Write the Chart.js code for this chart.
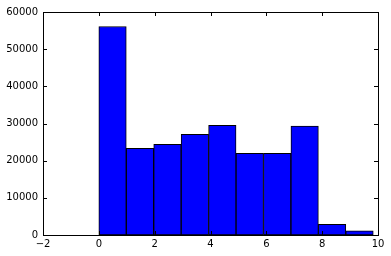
<!DOCTYPE html>
<html>
<head>
<meta charset="utf-8">
<script src="https://cdn.jsdelivr.net/npm/chart.js@4/dist/chart.umd.min.js"></script>
<style>
  html, body { margin: 0; padding: 0; background: #fff; }
  #wrap { width: 391px; height: 256px; }
</style>
</head>
<body>
<div id="wrap"><canvas id="grafico"></canvas></div>
<script>
// histogram bins (left/right edges) and counts
var binEdges = [0, 0.983, 1.966, 2.949, 3.932, 4.915, 5.898, 6.881, 7.864, 8.847, 9.83];
var counts = [56100, 23300, 24400, 27100, 29500, 22000, 22000, 29300, 2900, 1100];
var xTicks = [-2, 0, 2, 4, 6, 8, 10];
var yTicks = [0, 10000, 20000, 30000, 40000, 50000, 60000];

var puntos = [];
for (var i = 0; i < counts.length; i++) {
    puntos.push({ x: (binEdges[i] + binEdges[i + 1]) / 2, y: counts[i] });
}

// frame + inward ticks on all four sides, like matplotlib classic
var marco = {
    id: 'marco',
    afterDraw: function (chart) {
        var ctx = chart.ctx, a = chart.chartArea;
        var sx = chart.scales.x, sy = chart.scales.y;
        var L = 4;
        ctx.save();
        ctx.strokeStyle = '#000';
        ctx.lineWidth = 1;
        ctx.beginPath();
        xTicks.forEach(function (t) {
            var px = Math.round(sx.getPixelForValue(t)) + 0.5;
            ctx.moveTo(px, a.bottom); ctx.lineTo(px, a.bottom - L);
            ctx.moveTo(px, a.top); ctx.lineTo(px, a.top + L);
        });
        yTicks.forEach(function (t) {
            var py = Math.round(sy.getPixelForValue(t)) + 0.5;
            ctx.moveTo(a.left, py); ctx.lineTo(a.left + L, py);
            ctx.moveTo(a.right, py); ctx.lineTo(a.right - L, py);
        });
        ctx.stroke();
        ctx.strokeRect(Math.round(a.left) + 0.5, Math.round(a.top) + 0.5,
                       Math.round(a.right - a.left), Math.round(a.bottom - a.top));
        ctx.restore();
    }
};

var fuente = { family: 'DejaVu Sans', size: 10 };

new Chart(document.getElementById('grafico'), {
    type: 'bar',
    data: {
        datasets: [{
            data: puntos,
            backgroundColor: '#0000ff',
            borderColor: '#000',
            borderWidth: 1,
            borderSkipped: false,
            barPercentage: 1,
            categoryPercentage: 1
        }]
    },
    options: {
        responsive: true,
        maintainAspectRatio: false,
        animation: false,
        layout: { padding: { top: 12, right: 13, left: 0, bottom: 0 } },
        plugins: { legend: { display: false }, tooltip: { enabled: false } },
        scales: {
            x: {
                type: 'linear',
                offset: false,
                min: -2, max: 10,
                afterBuildTicks: function (s) { s.ticks = xTicks.map(function (v) { return { value: v }; }); },
                afterFit: function (s) { s.height = 21; },
                grid: { display: false, drawTicks: false, offset: false },
                border: { display: false },
                ticks: {
                    padding: 3, color: '#000', font: fuente, maxRotation: 0,
                    callback: function (v) { return String(v).replace('-', '\u2212'); }
                }
            },
            y: {
                min: 0, max: 60000,
                afterBuildTicks: function (s) { s.ticks = yTicks.map(function (v) { return { value: v }; }); },
                afterFit: function (s) { s.width = 43; },
                grid: { display: false, drawTicks: false },
                border: { display: false },
                ticks: {
                    padding: 5, color: '#000', font: fuente,
                    callback: function (v) { return String(v); }
                }
            }
        }
    },
    plugins: [marco]
});
</script>
</body>
</html>
